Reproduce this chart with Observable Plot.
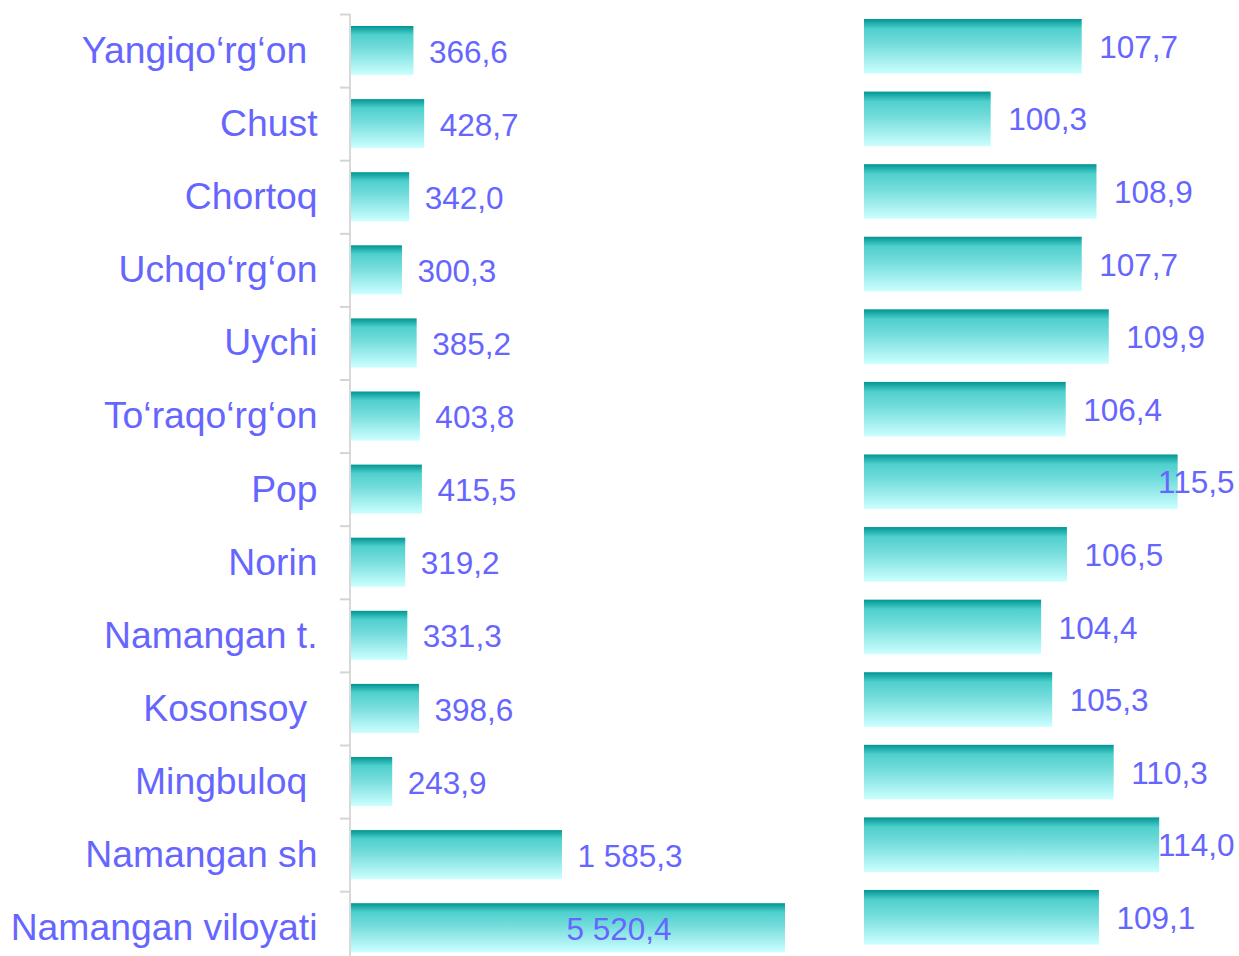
<!DOCTYPE html>
<html><head><meta charset="utf-8">
<script src="https://cdn.jsdelivr.net/npm/d3@7"></script>
<script src="https://cdn.jsdelivr.net/npm/@observablehq/plot@0.6"></script>
<style>
html,body{margin:0;padding:0;background:#fff;overflow:hidden;}
#wrap{display:flex;width:1239px;height:956px;}
#wrap svg{flex:none;}
svg text{white-space:pre;}
</style></head><body>
<svg width="0" height="0" style="position:absolute">
<defs><linearGradient id="teal" x1="0" y1="0" x2="0" y2="1">
<stop offset="0" stop-color="#009593"/>
<stop offset="0.18" stop-color="#4fd0cd"/>
<stop offset="0.45" stop-color="#72dcdb"/>
<stop offset="1" stop-color="#ccffff"/>
</linearGradient></defs></svg>
<div id="wrap"></div>
<script>
const districts = ["Yangiqo‘rg‘on ", "Chust", "Chortoq", "Uchqo‘rg‘on", "Uychi", "To‘raqo‘rg‘on", "Pop", "Norin", "Namangan t.", "Kosonsoy ", "Mingbuloq ", "Namangan sh", "Namangan viloyati"];
const volume = [366.6, 428.7, 342.0, 300.3, 385.2, 403.8, 415.5, 319.2, 331.3, 398.6, 243.9, 1585.3, 5520.4];
const growth = [107.7, 100.3, 108.9, 107.7, 109.9, 106.4, 115.5, 106.5, 104.4, 105.3, 110.3, 114.0, 109.1];

const fmt = d3.formatLocale({decimal: ",", thousands: " ", grouping: [3], currency: ["", ""]}).format(",.1f");
const rows = districts.map((name, i) => ({name, i, volume: volume[i], growth: growth[i]}));
const boundaries = d3.range(districts.length + 1);
const n = districts.length;
const txt = "#6666ff";
const font = "'Liberation Sans', Arial, sans-serif";

// broken (compressed) value axis for the left panel, as in the original chart
const axisBreak = d3.scaleLinear().domain([0, 430, 1585.3, 5520.4]).range([0, 430, 1225, 2514]);

const left = Plot.plot({
  width: 850, height: 956, marginLeft: 350, marginRight: 65, marginTop: 0, marginBottom: 0,
  style: {fontFamily: font, background: "transparent", overflow: "visible"},
  x: {transform: axisBreak, axis: null},
  y: {domain: [0, n], range: [14, 14 + 73.1 * n], axis: null},
  marks: [
    Plot.rectX(rows, {x1: 0, x2: "volume", y1: "i", y2: d => d.i + 1, insetTop: 12, insetBottom: 12, fill: "url(#teal)"}),
    Plot.ruleX([0], {stroke: "#d9d9d9", strokeWidth: 2, dx: -0.5, y1: 0, y2: n}),
    Plot.axisY(boundaries, {tickSize: 10, tickFormat: () => "", stroke: "#d4d4d4", strokeWidth: 2, label: null}),
    Plot.text(rows, {frameAnchor: "left", y: d => d.i + 0.5, text: "name", textAnchor: "end", dx: -33, dy: 0, fontSize: 37.3, fill: txt}),
    Plot.text(rows.filter(d => d.volume < 5000), {x: "volume", y: d => d.i + 0.5, text: d => fmt(d.volume), textAnchor: "start", dx: 15, dy: 1.5, fontSize: 31.5, fill: txt}),
    Plot.text(rows.filter(d => d.volume >= 5000), {x: "volume", y: d => d.i + 0.5, text: d => fmt(d.volume), textAnchor: "end", dx: -114, dy: 1.5, fontSize: 31.5, fill: txt})
  ]
});

const right = Plot.plot({
  width: 389, height: 956, marginLeft: 14, marginRight: 6, marginTop: 0, marginBottom: 0,
  style: {fontFamily: font, background: "transparent", overflow: "visible"},
  x: {domain: [90, 120], axis: null},
  y: {domain: [0, n], range: [10, 10 + 72.58 * n], axis: null},
  marks: [
    Plot.rectX(rows, {x1: 90, x2: "growth", y1: "i", y2: d => d.i + 1, insetTop: 9, insetBottom: 9, fill: "url(#teal)"}),
    Plot.text(rows.filter(d => d.growth < 112), {x: "growth", y: d => d.i + 0.5, text: d => fmt(d.growth), textAnchor: "start", dx: 17, dy: 1, fontSize: 31.5, fill: txt}),
    Plot.text(rows.filter(d => d.growth >= 112), {frameAnchor: "right", y: d => d.i + 0.5, text: d => fmt(d.growth), textAnchor: "end", dx: 1, dy: 1, fontSize: 31.5, fill: txt})
  ]
});

document.getElementById("wrap").append(left, right);
</script>
</body></html>
